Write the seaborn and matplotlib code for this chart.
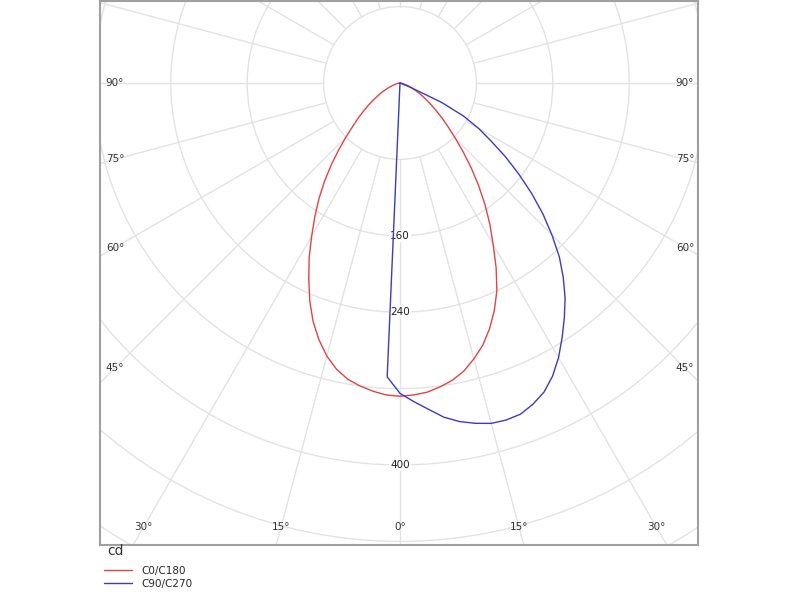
import numpy as np
import pandas as pd
import matplotlib
matplotlib.use("Agg")
import matplotlib.pyplot as plt
from matplotlib.patches import Circle
import seaborn as sns

# ---------------- data (luminous intensity, cd) ----------------
gamma = np.arange(0, 92.5, 2.5)  # vertical angle from nadir, degrees

c0 = [328, 327, 325, 321, 316, 309, 299, 288, 274, 258, 240, 218, 195, 175,
      155, 135, 116, 98, 82, 69, 58, 48, 40, 33, 27, 22, 17, 13, 10, 7, 5, 3,
      2, 1, 1, 0, 0]
c180 = [328, 327, 324, 320, 315, 307, 296, 282, 266, 247, 226, 206, 185, 166,
        148, 130, 112, 95, 80, 67, 57, 48, 40, 33, 27, 22, 17, 13, 10, 7, 5, 3,
        2, 1, 1, 0, 0]
c90 = [325, 334, 343, 353, 360, 365, 369, 370, 369, 364, 357, 346, 332, 316,
       300, 284, 266, 247, 225, 203, 180, 157, 135, 113, 95, 75, 48, 12, 0, 0,
       0, 0, 0, 0, 0, 0, 0]
c270 = [325, 308, 0, 0, 0, 0, 0, 0, 0, 0, 0, 0, 0, 0, 0, 0, 0, 0, 0, 0, 0, 0,
        0, 0, 0, 0, 0, 0, 0, 0, 0, 0, 0, 0, 0, 0, 0]

series_names = ["C0/C180", "C90/C270"]
series_colors = ["#e04444", "#3b3bc4"]
ring_values = [80, 160, 240, 320, 400, 480, 560, 640, 720]
ring_labels = [160, 240, 400]
angle_labels = [0, 15, 30, 45, 60, 75, 90]


def plane_xy(right_vals, left_vals):
    g = np.radians(gamma)
    r = np.asarray(right_vals, float)
    l = np.asarray(left_vals, float)
    xl, yl = -l * np.sin(g), -l * np.cos(g)
    xr, yr = r * np.sin(g), -r * np.cos(g)
    x = np.concatenate([xl[::-1], xr[1:]])
    y = np.concatenate([yl[::-1], yr[1:]])
    return x, y


frames = []
for name, (rv, lv) in zip(series_names, [(c0, c180), (c90, c270)]):
    x, y = plane_xy(rv, lv)
    frames.append(pd.DataFrame({"x": x, "y": y, "series": name,
                                "order": np.arange(len(x))}))
df = pd.concat(frames, ignore_index=True)

# ---------------- figure ----------------
sns.set_style("white")
plt.rcParams["font.family"] = ["DejaVu Sans"]

fig = plt.figure(figsize=(8, 6), dpi=100)
ax = fig.add_axes([100 / 800, 1 - 545 / 600, 598 / 800, 544 / 600])

px = 0.955  # pixels per cd
ax.set_xlim((100 - 400) / px, (698 - 400) / px)
ax.set_ylim((83 - 545) / px, (83 - 1) / px)

grid_c = "#e3e3e3"
for r in ring_values:
    ax.add_patch(Circle((0, 0), r, fill=False, ec=grid_c, lw=1.0, zorder=1))
for a in range(0, 360, 15):
    t = np.radians(a)
    ax.plot([80 * np.sin(t), 1200 * np.sin(t)],
            [-80 * np.cos(t), -1200 * np.cos(t)],
            color=grid_c, lw=1.0, zorder=1)

sns.lineplot(data=df, x="x", y="y", hue="series", hue_order=series_names,
             palette=series_colors, sort=False, estimator=None, units="series",
             lw=1.0, ax=ax, zorder=3)

for r in ring_labels:
    ax.text(0, -r, str(r), ha="center", va="center", fontsize=7.5,
            color="#222222", zorder=2.5,
            bbox=dict(fc="white", ec="none", pad=0.6))

# angle labels placed where each ray meets an inset box of the frame
W = (685 - 400) / px
B = (527 - 83) / px
for a in angle_labels:
    t = np.radians(a)
    s, c = np.sin(t), np.cos(t)
    cand = []
    if s > 1e-9:
        cand.append(W / s)
    if c > 1e-9:
        cand.append(B / c)
    d = min(cand)
    for sign in ([1, -1] if a != 0 else [1]):
        ax.text(sign * d * s, -d * c, f"{a}°", ha="center", va="center",
                fontsize=7.5, color="#333333", zorder=4)

ax.set_xticks([])
ax.set_yticks([])
ax.set_xlabel("")
ax.set_ylabel("")
for sp in ax.spines.values():
    sp.set_color("#a0a0a0")
    sp.set_linewidth(1.5)

handles, labels = ax.get_legend_handles_labels()
ax.get_legend().remove()
fig.legend(handles, labels, loc="upper left",
           bbox_to_anchor=(104 / 800, 1 - 566 / 600), frameon=False,
           fontsize=7.5, handlelength=2.7, handletextpad=0.9,
           labelspacing=0.25, borderpad=0, borderaxespad=0)

fig.text(107 / 800, 1 - 551 / 600, "cd", fontsize=10, ha="left",
         va="center", color="#333333")

fig.savefig("out.png", dpi=100, facecolor="white")
